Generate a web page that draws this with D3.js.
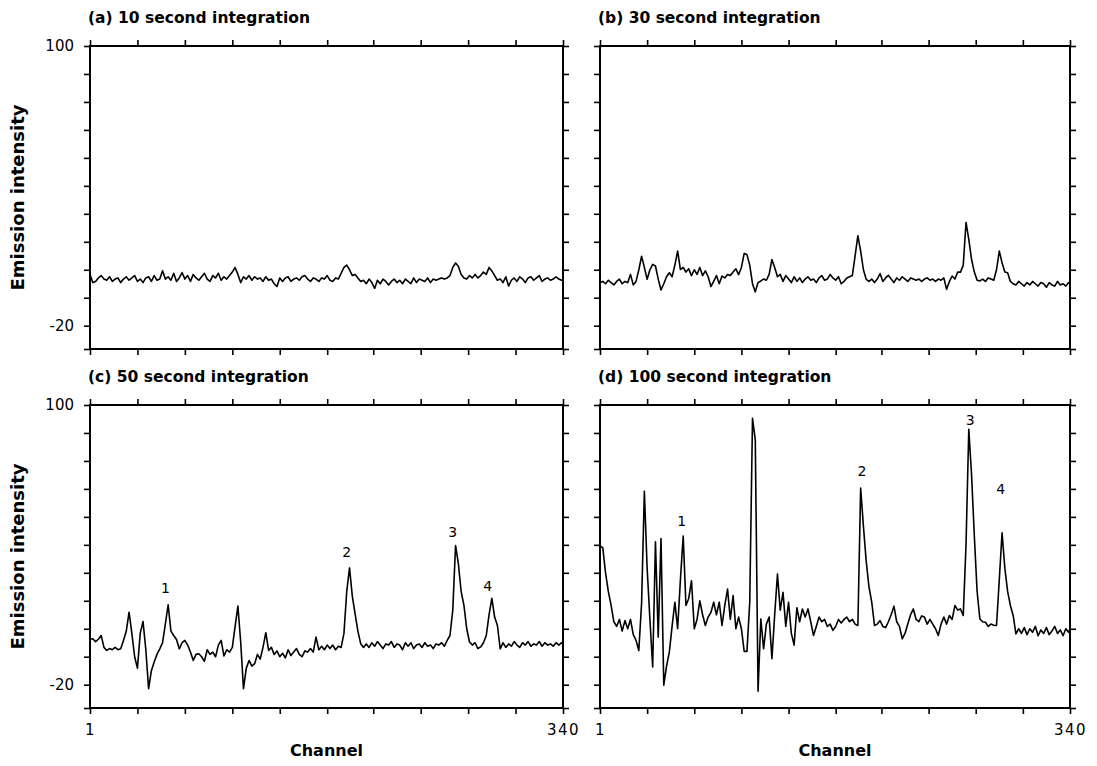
<!DOCTYPE html>
<html>
<head>
<meta charset="utf-8">
<script src="https://cdn.jsdelivr.net/npm/d3@7"></script>
<style>
  body { margin: 0; background: #fff; }
  svg { display: block; }
</style>
</head>
<body>
<svg width="1097" height="766"></svg>
<script>
// channel positions, every 2nd channel + the last one
const channels = d3.range(1, 340, 2).concat([340]);

// (a) 10 s
const valuesA = [
  2, -1.5, -1, 0.5, 1.5, 0, -0.5, 1, -1, 0,
  0.5, -1.5, 0, 1, -0.5, 0.5, 1.5, -1, 0, -1.5,
  0.5, 1, -1, 1.5, -0.5, 0, 3.6, 0, 1, -0.5,
  2.5, -1, 0.5, 2.8, 0, 1.5, -1, 2, 0.5, -0.5,
  1, 2.5, 0, -1, 1.5, 0.5, 2.5, -0.5, 1, 0,
  1.5, 3, 5, 2, -1.5, 1, 0, 1.5, -0.5, 1,
  0, 0.5, -1, 1, -0.5, 0, -2, -3.2, 0.5, -1,
  0.5, 1, -1, 0, 0.5, -0.5, 1, 1.5, 0, -1,
  0.5, 0, -1, 0.5, 0, 1.5, -0.5, -1, 0.5, 0,
  2.5, 5, 6, 4, 1.5, 2, 0.5, -1, -0.5, -2,
  0, -1.5, -4, -0.5, -2, 0, -1, -2.5, -1, 0,
  -1.5, -0.5, -2, 0, -1, -2, 0.5, -1.5, 0, -0.5,
  -1, 0.5, -1.5, 0, -0.5, 0, 0.5, 0, 0.5, 1.5,
  5, 6.9, 5.5, 2, 0.5, 0, 1.5, 0.5, 2, 0.5,
  1.5, 3, 2, 5, 3.5, 1.5, -0.5, 0, -1.5, 1,
  -3, -0.5, 0.5, -1, 1, 0, -1.5, 0.5, 1, -0.5,
  0.5, 1.5, -1, 0, 0.5, -0.5, 0, 1, 0, -0.5,
  0
];

// (b) 30 s
const valuesB = [
  -1.5, -1, -2, -0.5, -1.5, -2.5, -1, 0, -2, -1,
  -1.5, 2, -2.5, -1, 4, 9.8, 5, -0.1, 4, 6.3,
  5.6, 0, -4.7, -2, 1, 2.7, 1, 6, 12, 4.1,
  5, 3, 4.4, 1.5, 4, 2, 5, 1.5, 3.5, 1,
  -3.2, -1, 1.5, -2, 1.3, 0.5, 2, 1.5, 3, 4.4,
  1.9, 5, 11, 10.5, 6, -2, -5.5, -1.5, -0.8, 0,
  -0.5, 2, 8.4, 5, 1, 2, -1, 1.5, 0, -1.5,
  1, -1, 0.5, -1.5, 0, 1, -0.5, 0, -1.5, 0.5,
  1.5, -0.5, 0, 2, 0.5, -0.5, 1, -2, -1, 0.5,
  1, 1.5, 10, 18.6, 12, 4, -0.1, -1, 0, -1.5,
  0, 2.4, -1, 0.5, 1.6, 0, -1.5, 0.5, -0.5, 1,
  0, -1, 0.5, 0, -0.5, 0, -1, 0, 0.5, -0.5,
  0, -1, 0, -0.5, 0.5, -4.4, -1, 1.3, 0, 3,
  3, 6, 24.3, 17, 8.4, 3, -0.5, -0.8, 0, -1,
  0.5, 0, -0.5, 4, 12, 7, 3, 2.7, -1, -2,
  -2.5, -1, -2, -3, -1.5, -2.5, -1, -2, -3, -1.5,
  -2, -3.5, -1.5, -2.5, -3, -1, -2.5, -2, -3, -1.5,
  -2
];

// (c) 50 s
const valuesC = [
  -0.5, -0.3, -1.5, -0.5, 1.1, -4, -5.3, -4.5, -5, -4,
  -5, -4.6, -1, 3, 11.1, 2, -8, -12.9, 2, 7.1,
  -4.9, -21.7, -14, -10.3, -7, -4.6, -2, 6, 14.3, 3,
  1.1, -0.6, -4.6, -2, -1, -3, -6, -9.6, -7, -6.7,
  -8, -10, -5, -7, -6, -8, -3, -1, -7.7, -5,
  -6, -4, 5, 13.7, -1.7, -21.7, -13, -9.6, -12, -11,
  -7, -9, -4, 2.3, -5.3, -4, -7, -5.5, -8, -6.5,
  -8.5, -5, -7.5, -6, -4.5, -7, -8, -5.5, -6, -4.5,
  -6, 0.4, -5, -3.5, -5, -3, -4.5, -3, -5, -3.5,
  -4, 2, 20, 30.1, 18, 10.4, 3, -2.4, -4, -2.5,
  -4, -2, -3.5, -1.5, -3, -4.5, -2.5, -3, -1.5, -4,
  -2.5, -3, -5, -2, -3.5, -2, -4.5, -3, -2.5, -4,
  -2, -3.5, -3, -4.5, -2.5, -3, -2, -3.5, -1, 1.1,
  12, 39.7, 32, 20, 14, 4, -1.7, -3, -2, -4.5,
  -3.8, -2, 1.1, 10, 17.1, 9, 5.4, -4.6, -2, -4,
  -2.5, -3.5, -1.5, -3, -4, -2, -3, -1.5, -3.5, -2.5,
  -3, -1.5, -3.5, -2, -3, -2.5, -3.5, -2, -3, -2,
  -2.5
];

// (d) 100 s
const valuesD = [
  39.5, 38.8, 28, 20, 14, 7, 5, 8, 3, 7.5,
  4, 8, 1.5, -1, -5.3, 15, 63, 30, 8, -12.4,
  41.3, 0.4, 42.7, -20.2, -12, -6, 5, 15.4, 4, 25,
  43.8, 14, 17, 24.6, 4, 8, 16, 10, 5.4, 9,
  11, 15.4, 10, 15.4, 5.4, 14, 21, 8, 18.2, 4,
  9, 4, -5.7, -5.7, 15.4, 94.3, 85, -22.8, 8.2, -4.6,
  6, 9, -8.8, 10, 27.5, 12, 19.6, 5, 15.4, 2,
  -3, 13, 7, 12.5, 9, 12.5, 7, 1.1, 5, 9,
  7, 8, 5, 6, 3.3, 5, 8, 6.5, 8, 9,
  7, 8, 6, 5.4, 64.4, 48, 33, 22, 15.4, 5.4,
  6, 7.5, 5, 4.5, 7, 10, 13.7, 7, 5, -0.3,
  2, 6, 10, 12.5, 8, 7, 9.5, 9, 6, 8,
  6, 4, 1.1, 6, 9, 6, 9.7, 8, 14, 12,
  12.5, 9.7, 40, 89.6, 70, 43.8, 20, 8.2, 7, 6.8,
  5, 6, 5.5, 5.4, 25, 45.2, 30, 20, 14, 9.7,
  1.8, 4, 2, 4.5, 1.5, 4, 2.5, 5, 1, 3.5,
  2, 4.5, 1.5, 3, 5, 2, 3.5, 1, 4, 2.5,
  4
];

const titles = ["(a) 10 second integration", "(b) 30 second integration",
                "(c) 50 second integration", "(d) 100 second integration"];

// peak numbers, placed at (channel, intensity)
const peakLabelsC = [["1", 55, 21.6], ["2", 185, 37], ["3", 261, 45.6], ["4", 286, 22.4]];
const peakLabelsD = [["1", 60, 50.3], ["2", 190, 71.7], ["3", 268, 93.6], ["4", 290, 64]];

const yTicks = [100, 88, 76, 64, 52, 40, 28, 16, 4, -8, -20, -30];
const yLabels = [100, -20];
const xTicks = [1, 35, 69, 103, 137, 171, 204, 238, 272, 306, 340];
const xLabels = [1, 340];

const colX = [[90, 563], [600, 1070]];
const rowY = [[46, 349], [405, 708]];

const panels = [
  {title: titles[0], values: valuesA, labels: [], col: 0, row: 0},
  {title: titles[1], values: valuesB, labels: [], col: 1, row: 0},
  {title: titles[2], values: valuesC, labels: peakLabelsC, col: 0, row: 1},
  {title: titles[3], values: valuesD, labels: peakLabelsD, col: 1, row: 1}
];

const svg = d3.select("svg");
const font = "'DejaVu Sans', sans-serif";

panels.forEach(p => {
  const [x0, x1] = colX[p.col];
  const [y0, y1] = rowY[p.row];

  const x = d3.scaleLinear().domain([1, 340]).range([x0, x1]);
  const y = d3.scaleLinear().domain([-30, 100]).range([y1, y0]);

  const g = svg.append("g");

  // ticks (outward on all four sides)
  const leftAxis = d3.axisLeft(y).tickValues(yTicks).tickSize(6).tickPadding(10)
    .tickFormat(d => (p.col === 0 && yLabels.includes(d)) ? String(d) : "");
  const rightAxis = d3.axisRight(y).tickValues(yTicks).tickSize(6).tickFormat("");
  const topAxis = d3.axisTop(x).tickValues(xTicks).tickSize(6).tickFormat("");
  const bottomAxis = d3.axisBottom(x).tickValues(xTicks).tickSize(6).tickPadding(10)
    .tickFormat(d => (p.row === 1 && xLabels.includes(d)) ? String(d) : "");

  g.append("g").attr("transform", `translate(${x0},0)`).call(leftAxis);
  g.append("g").attr("transform", `translate(${x1},0)`).call(rightAxis);
  g.append("g").attr("transform", `translate(0,${y0})`).call(topAxis);
  const gb = g.append("g").attr("transform", `translate(0,${y1})`).call(bottomAxis);

  g.selectAll(".domain").remove();
  g.selectAll(".tick line").attr("stroke", "#000").attr("stroke-width", 1.6);
  g.selectAll(".tick text")
    .attr("font-family", font)
    .attr("font-size", "15px")
    .attr("fill", "#000");
  gb.selectAll(".tick text").attr("letter-spacing", "1.5px");

  // frame
  g.append("rect")
    .attr("x", x0).attr("y", y0)
    .attr("width", x1 - x0).attr("height", y1 - y0)
    .attr("fill", "none")
    .attr("stroke", "#000")
    .attr("stroke-width", 2);

  // trace
  const line = d3.line()
    .x((d, i) => x(channels[i]))
    .y(d => y(d));

  g.append("path")
    .datum(p.values)
    .attr("d", line)
    .attr("fill", "none")
    .attr("stroke", "#000")
    .attr("stroke-width", 1.6)
    .attr("stroke-linejoin", "round");

  // peak numbers
  g.selectAll(".peak").data(p.labels).enter().append("text")
    .attr("class", "peak")
    .attr("x", d => x(d[1]))
    .attr("y", d => y(d[2]))
    .attr("dy", "0.35em")
    .attr("text-anchor", "middle")
    .attr("font-family", font)
    .attr("font-size", "14px")
    .text(d => d[0]);

  // panel title
  g.append("text")
    .attr("x", x0 - 2)
    .attr("y", y0 - 23)
    .attr("font-family", font)
    .attr("font-weight", "bold")
    .attr("font-size", "15.5px")
    .text(p.title);

  // axis titles
  if (p.col === 0) {
    g.append("text")
      .attr("transform", `translate(24,${(y0 + y1) / 2}) rotate(-90)`)
      .attr("text-anchor", "middle")
      .attr("font-family", font)
      .attr("font-weight", "bold")
      .attr("font-size", "18px")
      .text("Emission intensity");
  }
  if (p.row === 1) {
    g.append("text")
      .attr("x", (x0 + x1) / 2)
      .attr("y", 756)
      .attr("text-anchor", "middle")
      .attr("font-family", font)
      .attr("font-weight", "bold")
      .attr("font-size", "16px")
      .text("Channel");
  }
});
</script>
</body>
</html>
